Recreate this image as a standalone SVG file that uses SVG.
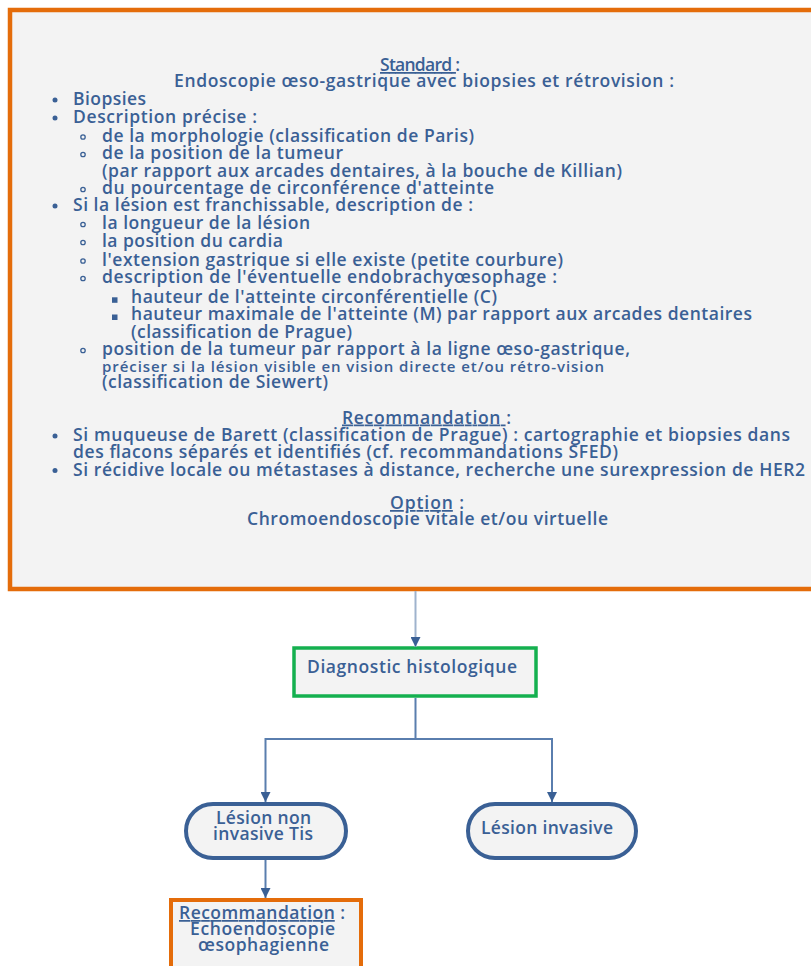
<svg xmlns="http://www.w3.org/2000/svg" width="811" height="966" viewBox="0 0 811 966">
<style>
.t{font-family:"Open Sans",Lato,"DejaVu Sans",sans-serif;font-weight:600;font-size:17.5px;fill:#3a6095}
.s{font-size:15px}
.u{text-decoration:underline}
.b1{fill:#3a6095}
.b2{fill:none;stroke:#3a6095;stroke-width:1.3}
.conn{fill:none;stroke:#5a7eae;stroke-width:2}
.conn0{fill:none;stroke:#9fb3cd;stroke-width:2}
</style>
<defs>
<marker id="ah" markerWidth="10" markerHeight="10" refX="10" refY="5" orient="auto" markerUnits="userSpaceOnUse" viewBox="0 0 10 10">
<path d="M0,0 L10,5 L0,10 Z" fill="#3a6095"/>
</marker>
</defs>
<rect width="811" height="966" fill="#ffffff"/>

<g id="standard">
<rect x="10" y="10" width="820" height="579" fill="#f3f3f3" stroke="#e46c0a" stroke-width="4.5"/>
<text class="t" x="380" y="71" textLength="80"><tspan class="u">Standard </tspan>:</text>
<text class="t" x="174" y="86.5" textLength="500">Endoscopie œso-gastrique avec biopsies et rétrovision :</text>

<circle class="b1" cx="55" cy="100" r="2.5"/>
<text class="t" x="73" y="105" textLength="73">Biopsies</text>
<circle class="b1" cx="55" cy="118" r="2.5"/>
<text class="t" x="73" y="123" textLength="184">Description précise :</text>
<circle class="b2" cx="83" cy="137" r="2.2"/>
<text class="t" x="102" y="141.5" textLength="372">de la morphologie (classification de Paris)</text>
<circle class="b2" cx="83" cy="154.5" r="2.2"/>
<text class="t" x="102" y="159" textLength="241">de la position de la tumeur</text>
<text class="t" x="102" y="177" textLength="520">(par rapport aux arcades dentaires, à la bouche de Killian)</text>
<circle class="b2" cx="83" cy="189.5" r="2.2"/>
<text class="t" x="102" y="194" textLength="392">du pourcentage de circonférence d'atteinte</text>
<circle class="b1" cx="55" cy="206" r="2.5"/>
<text class="t" x="73" y="211" textLength="400">Si la lésion est franchissable, description de :</text>
<circle class="b2" cx="83" cy="224.5" r="2.2"/>
<text class="t" x="102" y="229" textLength="208">la longueur de la lésion</text>
<circle class="b2" cx="83" cy="242.5" r="2.2"/>
<text class="t" x="102" y="247" textLength="181">la position du cardia</text>
<circle class="b2" cx="83" cy="261" r="2.2"/>
<text class="t" x="102" y="265.5" textLength="461">l'extension gastrique si elle existe (petite courbure)</text>
<circle class="b2" cx="83" cy="278.5" r="2.2"/>
<text class="t" x="102" y="283" textLength="455">description de l'éventuelle endobrachyœsophage :</text>
<rect class="b1" x="112" y="297.3" width="5.5" height="5.5"/>
<text class="t" x="131" y="303" textLength="366">hauteur de l'atteinte circonférentielle (C)</text>
<rect class="b1" x="112" y="314.5" width="5.5" height="5.5"/>
<text class="t" x="131" y="320" textLength="621">hauteur maximale de l'atteinte (M) par rapport aux arcades dentaires</text>
<text class="t" x="131" y="337.5" textLength="221">(classification de Prague)</text>
<circle class="b2" cx="83" cy="350.5" r="2.2"/>
<text class="t" x="102" y="355" textLength="528">position de la tumeur par rapport à la ligne œso-gastrique,</text>
<text class="t s" x="102" y="371.5" textLength="502">préciser si la lésion visible en vision directe et/ou rétro-vision</text>
<text class="t" x="102" y="387.5" textLength="226">(classification de Siewert)</text>

<text class="t" x="342" y="423.5" textLength="169"><tspan class="u">Recommandation </tspan>:</text>
<circle class="b1" cx="55" cy="436" r="2.5"/>
<text class="t" x="73" y="441" textLength="717">Si muqueuse de Barett (classification de Prague) : cartographie et biopsies dans</text>
<text class="t" x="73" y="457.5" textLength="545">des flacons séparés et identifiés (cf. recommandations SFED)</text>
<circle class="b1" cx="55" cy="470.5" r="2.5"/>
<text class="t" x="73" y="475.5" textLength="732">Si récidive locale ou métastases à distance, recherche une surexpression de HER2</text>

<text class="t" x="390" y="509" textLength="74"><tspan class="u">Option</tspan> :</text>
<text class="t" x="247" y="524.5" textLength="361">Chromoendoscopie vitale et/ou virtuelle</text>
</g>

<g id="diagnostic">
<rect x="294" y="648" width="242" height="48" fill="#f3f3f3" stroke="#14b04f" stroke-width="3.5"/>
<text class="t" x="307" y="673" textLength="210">Diagnostic histologique</text>
</g>

<g id="non-invasive">
<rect x="186" y="804" width="160" height="54" rx="27" ry="27" fill="#f3f3f3" stroke="#3a6095" stroke-width="4"/>
<text class="t" x="216" y="824" textLength="95">Lésion non</text>
<text class="t" x="213" y="840" textLength="100">invasive Tis</text>
</g>

<g id="invasive">
<rect x="468" y="804" width="168" height="54" rx="27" ry="27" fill="#f3f3f3" stroke="#3a6095" stroke-width="4"/>
<text class="t" x="481" y="834" textLength="132">Lésion invasive</text>
</g>

<g id="echo">
<rect x="171" y="900" width="190" height="90" fill="#f3f3f3" stroke="#e46c0a" stroke-width="4"/>
<text class="t" x="179" y="919" textLength="166"><tspan class="u">Recommandation</tspan> :</text>
<text class="t" x="190" y="934.5" textLength="145">Echoendoscopie</text>
<text class="t" x="198" y="950.5" textLength="131">œsophagienne</text>
</g>

<g id="connectors">
<path class="conn0" d="M415.5,591 L415.5,647" marker-end="url(#ah)"/>
<path class="conn" d="M415.5,698 L415.5,739 L265.5,739 L265.5,802" marker-end="url(#ah)"/>
<path class="conn" d="M415.5,739 L552,739 L552,802" marker-end="url(#ah)"/>
<path class="conn" d="M265.5,860 L265.5,898" marker-end="url(#ah)"/>
</g>
</svg>
